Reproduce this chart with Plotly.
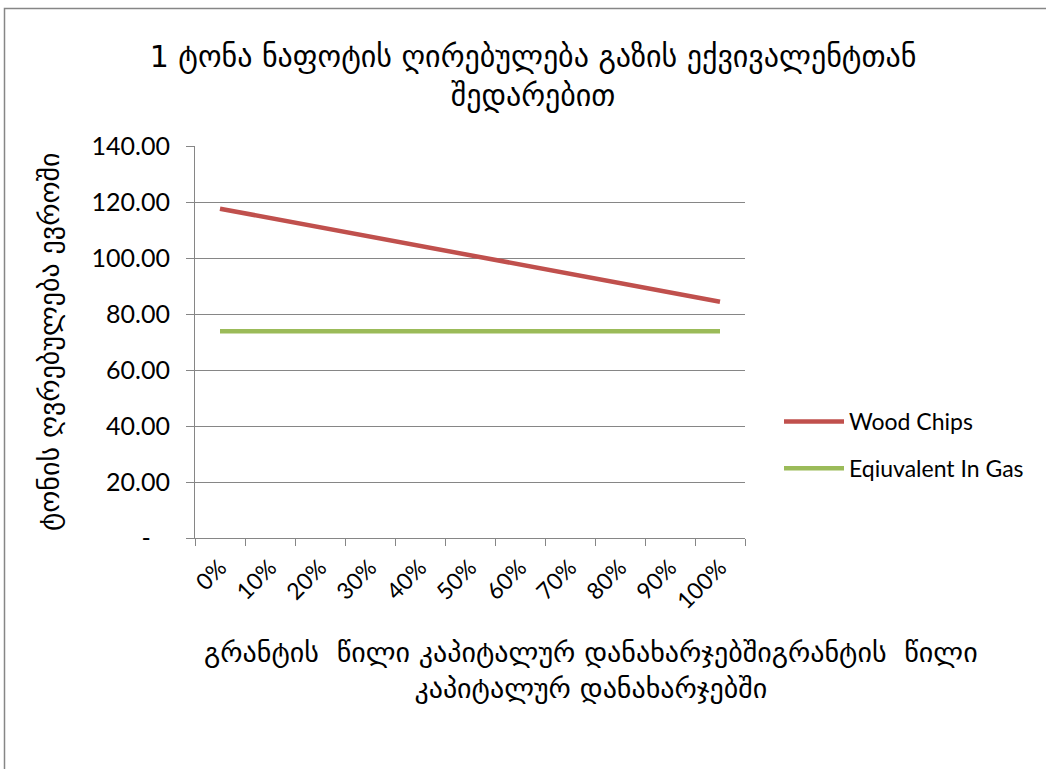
import plotly.graph_objects as go

# Grant share of capital expenditure (x categories)
grant_share = ["0%", "10%", "20%", "30%", "40%", "50%", "60%", "70%", "80%", "90%", "100%"]

# Cost per tonne, EUR
wood_chips = [117.6, 114.3, 111.0, 107.6, 104.3, 101.0, 97.7, 94.3, 91.0, 87.7, 84.4]
gas_equivalent = [73.8, 73.8, 73.8, 73.8, 73.8, 73.8, 73.8, 73.8, 73.8, 73.8, 73.8]

y_tick_vals = [0, 20, 40, 60, 80, 100, 120, 140]
y_tick_text = ["-\u00a0\u00a0\u00a0", "20.00", "40.00", "60.00", "80.00", "100.00", "120.00", "140.00"]

W, H = 1046, 769
L, R, T, B = 195, 301, 146, 231
PW, PH = W - L - R, H - T - B

def px_x(p):
    return (p - L) / PW

def px_y(p):
    return (H - B - p) / PH

GEO = "DejaVu Sans"
LAT = "Lato, Open Sans, sans-serif"
GRID = "#868686"

fig = go.Figure()
fig.add_trace(go.Scatter(x=grant_share, y=wood_chips, mode="lines", name="Wood Chips",
                         legendgroup="a",
                         line=dict(color="#C0504D", width=4.5)))
fig.add_trace(go.Scatter(x=grant_share, y=gas_equivalent, mode="lines", name="Eqiuvalent In Gas",
                         legendgroup="b",
                         line=dict(color="#9BBB59", width=4.5)))

fig.update_layout(
    width=W, height=H,
    margin=dict(l=L, r=R, t=T, b=B),
    paper_bgcolor="white", plot_bgcolor="white",
    title=dict(text="1 ტონა ნაფოტის ღირებულება გაზის ექვივალენტთან<br>შედარებით",
               x=533 / W, xanchor="center", xref="container",
               y=1 - 67 / H, yanchor="middle", yref="container",
               font=dict(family=GEO, size=30, color="black")),
    legend=dict(x=px_x(779), y=px_y(400), xanchor="left", yanchor="top",
                font=dict(family=LAT, size=23, color="black"),
                tracegroupgap=14, itemwidth=60, bgcolor="rgba(0,0,0,0)"),
    showlegend=True,
)

fig.update_xaxes(type="category", range=[-0.5, 10.5], showgrid=False,
                 showline=True, linecolor=GRID, linewidth=1,
                 ticks="outside", tickson="boundaries", ticklen=7, tickcolor=GRID,
                 tickangle=-45, tickfont=dict(family=LAT, size=23, color="black"),
                 ticklabelstandoff=6,
                 zeroline=False, fixedrange=True)
fig.update_yaxes(range=[0, 140], tickvals=y_tick_vals, ticktext=y_tick_text,
                 showgrid=True, gridcolor=GRID, gridwidth=1,
                 showline=True, linecolor=GRID, linewidth=1,
                 ticks="outside", ticklen=8, tickcolor=GRID,
                 tickfont=dict(family=LAT, size=25, color="black"),
                 zeroline=False, ticklabelstandoff=11)

# axis titles
fig.add_annotation(text="გრანტის  წილი კაპიტალურ დანახარჯებშიგრანტის  წილი<br>კაპიტალურ დანახარჯებში",
                   xref="paper", yref="paper", x=px_x(591), y=px_y(670),
                   xanchor="center", yanchor="middle", showarrow=False,
                   font=dict(family=GEO, size=28, color="black"))
fig.add_annotation(text="ტონის ღვრებულება ევროში", textangle=-90,
                   xref="paper", yref="paper", x=px_x(49), y=px_y(342),
                   xanchor="center", yanchor="middle", showarrow=False,
                   font=dict(family=GEO, size=28, color="black"))

# chart-area frame
fig.add_shape(type="rect", xref="paper", yref="paper",
              x0=px_x(4.5), x1=px_x(1060), y0=px_y(780), y1=px_y(8.5),
              line=dict(color=GRID, width=1.5), layer="below")

fig.write_html("out.html")
